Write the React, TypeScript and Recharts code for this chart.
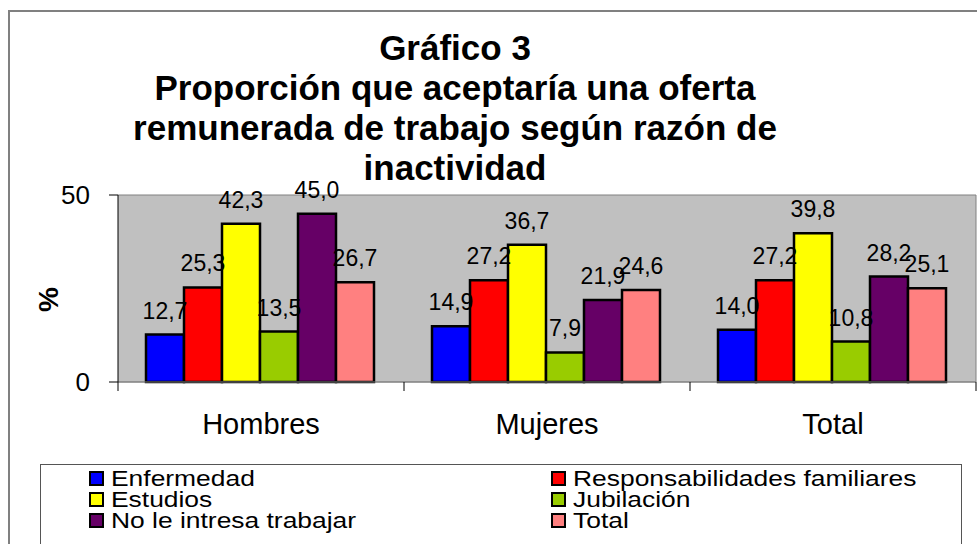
import { BarChart, Bar, XAxis, YAxis, CartesianGrid, LabelList } from 'recharts';

const categories = ['Hombres', 'Mujeres', 'Total'];
const enfermedad = [12.7, 14.9, 14.0];
const responsabilidades = [25.3, 27.2, 27.2];
const estudios = [42.3, 36.7, 39.8];
const jubilacion = [13.5, 7.9, 10.8];
const noInteresa = [45.0, 21.9, 28.2];
const totalSerie = [26.7, 24.6, 25.1];
const yTicks = [0, 50];

const series = [
  { key: 'enfermedad', name: 'Enfermedad', color: '#0000FF', values: enfermedad },
  { key: 'responsabilidades', name: 'Responsabilidades familiares', color: '#FF0000', values: responsabilidades },
  { key: 'estudios', name: 'Estudios', color: '#FFFF00', values: estudios },
  { key: 'jubilacion', name: 'Jubilación', color: '#99CC00', values: jubilacion },
  { key: 'noInteresa', name: 'No le intresa trabajar', color: '#660066', values: noInteresa },
  { key: 'total', name: 'Total', color: '#FF8080', values: totalSerie },
];

const data = categories.map((cat, i) => {
  const row: Record<string, string | number> = { cat };
  series.forEach((s) => {
    row[s.key] = s.values[i];
  });
  return row;
});

const FONT = '"Liberation Sans", Arial, Helvetica, sans-serif';

const formatValue = (v: number) => v.toFixed(1).replace('.', ',');

// category labels, with the tick marks drawn between categories like Excel does
function CategoryTick(props: any) {
  const { x, y, payload, index } = props;
  const half = payload.offset ?? 143;
  return (
    <g>
      {index === 0 && <line x1={x - half} y1={y} x2={x - half} y2={y + 9} stroke="#000" />}
      <line x1={x + half} y1={y} x2={x + half} y2={y + 9} stroke="#000" />
      <text x={x} y={y + 52} textAnchor="middle" fontSize={29} fontFamily={FONT} fill="#000">
        {payload.value}
      </text>
    </g>
  );
}

function PercentLabel(props: any) {
  const { viewBox } = props;
  const cx = viewBox.x + 48;
  const cy = viewBox.y + viewBox.height / 2 + 11;
  return (
    <text
      x={cx}
      y={cy}
      transform={`rotate(-90, ${cx}, ${cy})`}
      textAnchor="middle"
      dominantBaseline="central"
      fontSize={28}
      fontWeight="bold"
      fontFamily={FONT}
      fill="#000"
    >
      %
    </text>
  );
}

export default function App() {
  return (
    <div
      style={{
        position: 'absolute',
        left: 0,
        top: 0,
        width: 977,
        height: 544,
        overflow: 'hidden',
        background: '#fff',
        fontFamily: FONT,
      }}
    >
      <div
        style={{
          position: 'absolute',
          left: 8,
          top: 10,
          width: 1000,
          height: 600,
          border: '2px solid #808080',
        }}
      />
      <div
        style={{
          position: 'absolute',
          left: 0,
          top: 28,
          width: 910,
          textAlign: 'center',
          fontWeight: 'bold',
          fontSize: 35,
          lineHeight: '40px',
          color: '#000',
        }}
      >
        Gráfico 3
        <br />
        Proporción que aceptaría una oferta
        <br />
        remunerada de trabajo según razón de
        <br />
        inactividad
      </div>

      <div style={{ position: 'absolute', left: 0, top: 0 }}>
        <BarChart
          width={977}
          height={544}
          data={data}
          margin={{ top: 195, right: 0, bottom: 102, left: 0 }}
          barCategoryGap={28}
          barGap={0}
        >
          <CartesianGrid fill="#C0C0C0" stroke="#808080" vertical={false} />
          <XAxis
            dataKey="cat"
            height={60}
            axisLine={{ stroke: '#808080' }}
            tickLine={false}
            tickSize={0}
            tickMargin={0}
            tick={<CategoryTick />}
            interval={0}
          />
          <YAxis
            yAxisId="left"
            width={118}
            domain={[0, 50]}
            ticks={yTicks}
            tickSize={9}
            tickMargin={19}
            axisLine={{ stroke: '#000' }}
            tickLine={{ stroke: '#000' }}
            tick={{ fontSize: 26, fill: '#000', fontFamily: FONT }}
            label={<PercentLabel />}
          />
          <YAxis
            yAxisId="right"
            orientation="right"
            width={1}
            domain={[0, 50]}
            tick={false}
            tickLine={false}
            axisLine={{ stroke: '#808080' }}
          />
          {series.map((s) => (
            <Bar
              key={s.key}
              yAxisId="left"
              dataKey={s.key}
              name={s.name}
              fill={s.color}
              stroke="#000"
              strokeWidth={2.5}
              isAnimationActive={false}
            >
              <LabelList
                dataKey={s.key}
                position="top"
                offset={16}
                formatter={(v: any) => formatValue(Number(v))}
                style={{ fontSize: 23, fill: '#000', fontFamily: FONT }}
              />
            </Bar>
          ))}
        </BarChart>
      </div>

      <div
        style={{
          position: 'absolute',
          left: 40,
          top: 464,
          width: 922,
          height: 120,
          border: '1.5px solid #555',
          boxSizing: 'border-box',
          paddingLeft: 48,
          paddingTop: 3,
          display: 'grid',
          gridTemplateColumns: '462px 1fr',
          gridAutoRows: '21px',
          alignContent: 'start',
        }}
      >
        {series.map((s) => (
          <div key={s.key} style={{ display: 'flex', alignItems: 'center', height: 21 }}>
            <span
              style={{
                display: 'inline-block',
                flex: 'none',
                width: 11,
                height: 11,
                background: s.color,
                border: '2px solid #000',
                marginRight: 7,
              }}
            />
            <span
              style={{
                display: 'inline-block',
                height: 21,
                fontSize: 22,
                lineHeight: '21px',
                color: '#000',
                whiteSpace: 'nowrap',
                transform: 'scaleX(1.2)',
                transformOrigin: 'left center',
              }}
            >
              {s.name}
            </span>
          </div>
        ))}
      </div>
    </div>
  );
}
